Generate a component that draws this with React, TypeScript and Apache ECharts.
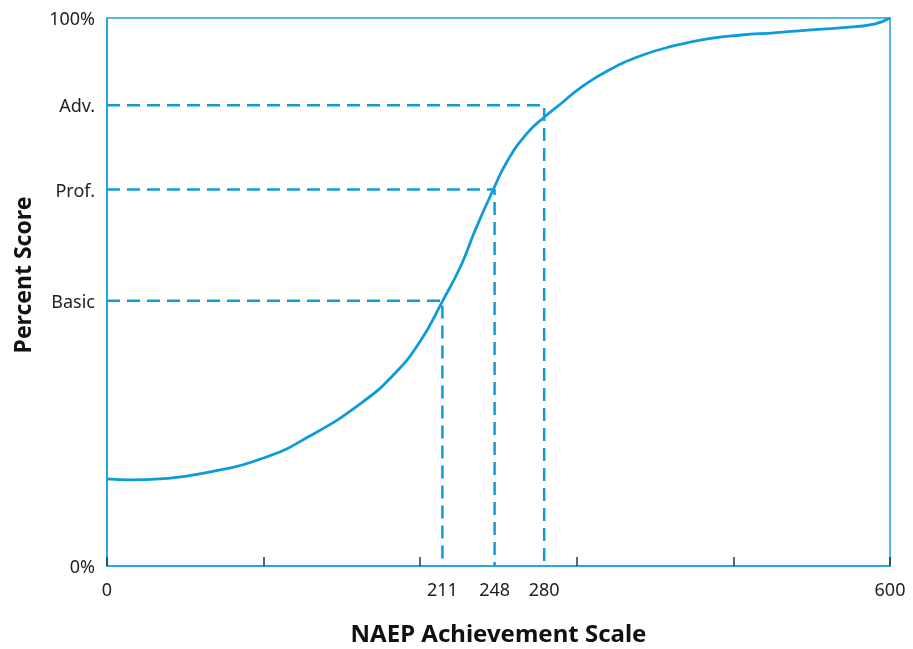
import React, { useEffect, useRef } from "react";
import * as echarts from "echarts";

// Curve: position on the drawn scale (0–600) vs percent score
const curveX = [0, 18, 41, 71, 120, 156, 194, 220, 240, 257, 271, 282, 296, 307, 322, 335, 348, 363, 384, 409, 434, 460, 486, 511, 537, 562, 588, 600];
const curveY = [15.9, 15.7, 15.9, 16.8, 19.7, 23.8, 29.6, 35.0, 41.0, 48.3, 54.7, 61.2, 68.7, 74.0, 79.0, 81.9, 84.4, 87.3, 90.4, 93.1, 94.9, 96.2, 96.9, 97.3, 97.8, 98.2, 98.9, 100];

// Achievement levels
const levelNames = ["Basic", "Prof.", "Adv."];
const levelPct = [48.4, 68.7, 84.1];
const cutScores = ["211", "248", "280"];
const cutPos = [257, 297, 335];

// Axis end labels
const xEndValues = [0, 600];
const xEndLabels = ["0", "600"];
const yEndValues = [0, 100];
const yEndLabels = ["0%", "100%"];

const BLUE = "#0e9bd8";
const FRAME = "#1ba2db";
const FONT = "'Noto Sans', 'Open Sans', sans-serif";

export default function App() {
  const ref = useRef<HTMLDivElement>(null);
  useEffect(() => {
    if (!ref.current) return;
    const chart = echarts.init(ref.current, null, { renderer: "svg" });

    const xLabelMap: Record<string, string> = {};
    xEndValues.forEach((v, i) => (xLabelMap[String(v)] = xEndLabels[i]));
    cutPos.forEach((v, i) => (xLabelMap[String(v)] = cutScores[i]));
    const yLabelMap: Record<string, string> = {};
    yEndValues.forEach((v, i) => (yLabelMap[String(v)] = yEndLabels[i]));
    levelPct.forEach((v, i) => (yLabelMap[String(v)] = levelNames[i]));

    const dashedSeries = levelPct.map((p, i) => ({
      type: "line",
      data: [
        [0, p],
        [cutPos[i], p],
        [cutPos[i], 0],
      ],
      symbol: "none",
      silent: true,
      lineStyle: { color: BLUE, width: 2.5, type: [13, 7] },
      z: 2,
    }));

    chart.setOption({
      animation: false,
      grid: {
        left: 107,
        top: 18,
        width: 783,
        height: 551,
        show: true,
        borderColor: FRAME,
        borderWidth: 1.5,
      },
      xAxis: {
        type: "value",
        min: 0,
        max: 600,
        interval: 120,
        name: "NAEP Achievement Scale",
        nameLocation: "middle",
        nameGap: 54,
        nameTextStyle: { fontFamily: FONT, fontSize: 24, fontWeight: "bold", color: "#111" },
        axisLine: { show: true, lineStyle: { color: FRAME, width: 1.5 } },
        axisTick: { show: true, inside: true, length: 9, lineStyle: { color: "#333", width: 1.5 } },
        splitLine: { show: false },
        axisLabel: {
          customValues: [...xEndValues, ...cutPos],
          formatter: (v: number) => xLabelMap[String(v)] ?? "",
          margin: 14,
          fontFamily: FONT,
          fontSize: 18,
          color: "#222",
        },
      },
      yAxis: {
        type: "value",
        min: 0,
        max: 100,
        axisLine: { show: true, lineStyle: { color: FRAME, width: 1.5 } },
        axisTick: { show: false },
        splitLine: { show: false },
        axisLabel: {
          customValues: [...yEndValues, ...levelPct],
          formatter: (v: number) => yLabelMap[String(v)] ?? "",
          margin: 12,
          fontFamily: FONT,
          fontSize: 18,
          color: "#222",
        },
      },
      graphic: [
        {
          type: "text",
          x: 22,
          y: 275,
          rotation: Math.PI / 2,
          style: {
            text: "Percent Score",
            fontFamily: FONT,
            fontSize: 23,
            fontWeight: "bold",
            fill: "#111",
            align: "center",
            verticalAlign: "middle",
          },
        },
      ],
      series: [
        ...dashedSeries,
        {
          type: "line",
          data: curveX.map((x, i) => [x, curveY[i]]),
          smooth: 0.5,
          symbol: "none",
          silent: true,
          lineStyle: { color: BLUE, width: 2.8 },
          z: 3,
        },
      ],
    });
    return () => chart.dispose();
  }, []);
  return <div ref={ref} style={{ position: "fixed", left: 0, top: 0, width: 913, height: 649 }} />;
}
